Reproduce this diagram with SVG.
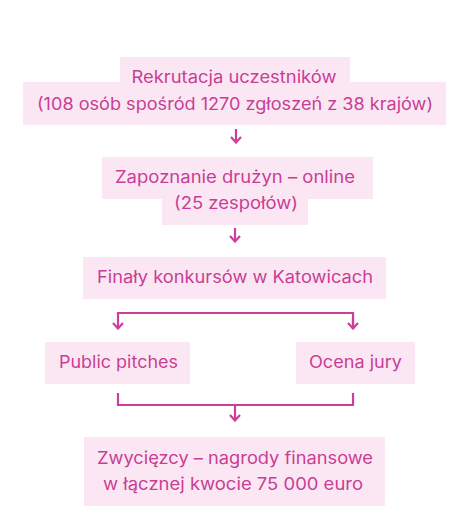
<svg xmlns="http://www.w3.org/2000/svg" width="457" height="527" viewBox="0 0 457 527">
<style>
.bg{fill:#fbe7f3}
.t{font-family:"Inter","Noto Sans",sans-serif;font-size:17px;fill:#c93d96;text-anchor:middle}
.c{fill:none;stroke:#cc3f99;stroke-width:2.2;stroke-linecap:butt;stroke-linejoin:miter}
</style>
<defs>
<marker id="ah" viewBox="0 0 8 12" refX="7" refY="6" markerWidth="8" markerHeight="12" markerUnits="userSpaceOnUse" orient="auto">
<path d="M1,1 L6.5,6 L1,11" fill="none" stroke="#cc3f99" stroke-width="2.2"/>
</marker>
</defs>
<rect width="457" height="527" fill="#ffffff"/>
<g id="connectors">
<path class="c" d="M236,129 V143" marker-end="url(#ah)"/>
<path class="c" d="M235,228 V242" marker-end="url(#ah)"/>
<path class="c" d="M353,329 V313 H118 V329" marker-end="url(#ah)"/>
<path class="c" d="M353,318 V329" marker-end="url(#ah)"/>
<path class="c" d="M118,393 V405 H353 V393"/>
<path class="c" d="M235,405 V421" marker-end="url(#ah)"/>
</g>
<g id="node-rekrutacja">
<rect class="bg" x="120" y="57" width="230" height="43"/>
<rect class="bg" x="23" y="82" width="423" height="43"/>
<text class="t" x="234" y="83" textLength="205" lengthAdjust="spacingAndGlyphs">Rekrutacja uczestników</text>
<text class="t" x="235" y="110" textLength="396" lengthAdjust="spacingAndGlyphs">(108 osób spośród 1270 zgłoszeń z 38 krajów)</text>
</g>
<g id="node-zapoznanie">
<rect class="bg" x="102" y="157" width="271" height="42"/>
<rect class="bg" x="162" y="182" width="146" height="43"/>
<text class="t" x="235" y="183" textLength="240" lengthAdjust="spacingAndGlyphs">Zapoznanie drużyn – online</text>
<text class="t" x="236" y="209" textLength="124" lengthAdjust="spacingAndGlyphs">(25 zespołów)</text>
</g>
<g id="node-finaly">
<rect class="bg" x="83" y="257" width="303" height="42"/>
<text class="t" x="235" y="283" textLength="276" lengthAdjust="spacingAndGlyphs">Finały konkursów w Katowicach</text>
</g>
<g id="node-public">
<rect class="bg" x="45" y="342" width="145" height="42"/>
<text class="t" x="118.5" y="368" textLength="119" lengthAdjust="spacingAndGlyphs">Public pitches</text>
</g>
<g id="node-ocena">
<rect class="bg" x="296" y="342" width="119" height="42"/>
<text class="t" x="355.5" y="368" textLength="93" lengthAdjust="spacingAndGlyphs">Ocena jury</text>
</g>
<g id="node-zwyciezcy">
<rect class="bg" x="84" y="437" width="301" height="69"/>
<text class="t" x="235" y="464" textLength="276" lengthAdjust="spacingAndGlyphs">Zwycięzcy – nagrody finansowe</text>
<text class="t" x="233" y="490" textLength="260" lengthAdjust="spacingAndGlyphs">w łącznej kwocie 75 000 euro</text>
</g>
</svg>
